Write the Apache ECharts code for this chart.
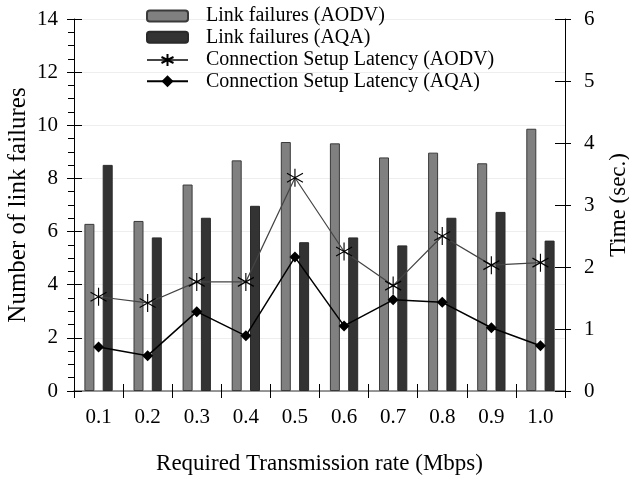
<!DOCTYPE html>
<html>
<head>
<meta charset="utf-8">
<script src="https://cdn.jsdelivr.net/npm/echarts@6/dist/echarts.min.js"></script>
<style>html,body{margin:0;padding:0;background:#fff}#c{width:629px;height:477px}</style>
</head>
<body>
<div id="c"></div>
<script>
var categories = ['0.1','0.2','0.3','0.4','0.5','0.6','0.7','0.8','0.9','1.0'];
var linkFailuresAODV = [6.29, 6.40, 7.77, 8.68, 9.37, 9.32, 8.79, 8.97, 8.57, 9.87];
var linkFailuresAQA = [8.51, 5.78, 6.52, 6.97, 5.60, 5.78, 5.48, 6.52, 6.74, 5.66];
var latencyAODV = [1.52, 1.42, 1.76, 1.76, 3.44, 2.25, 1.70, 2.50, 2.03, 2.07];
var latencyAQA = [0.71, 0.57, 1.28, 0.89, 2.16, 1.05, 1.47, 1.43, 1.02, 0.73];
var leftTicks = [0, 2, 4, 6, 8, 10, 12, 14];
var rightTicks = [0, 1, 2, 3, 4, 5, 6];

var FONT = '"Liberation Serif", "Times New Roman", serif';
var chart = echarts.init(document.getElementById('c'), null, {renderer: 'canvas'});
var starPath = 'path://M10,0L10,20M1.34,5L18.66,15M1.34,15L18.66,5';
var legendText = {fontFamily: FONT, fontSize: 20, color: '#000', lineHeight: 20, padding: [0,0,0,13]};

chart.setOption({
  animation: false,
  backgroundColor: '#fff',
  textStyle: {fontFamily: FONT},
  grid: {left: 74, right: 64, top: 19, bottom: 86, containLabel: false, outerBoundsMode: 'none'},
  legend: [
    {
      orient: 'vertical', left: 141, top: 1, itemGap: 1.3,
      itemWidth: 41, itemHeight: 11,
      textStyle: legendText,
      data: ['Link failures (AODV)', 'Link failures (AQA)']
    },
    {
      orient: 'vertical', left: 141, top: 45, itemGap: 1.3,
      itemWidth: 41, itemHeight: 15,
      textStyle: legendText,
      data: ['Connection Setup Latency (AODV)', 'Connection Setup Latency (AQA)']
    }
  ],
  xAxis: [
    {
      type: 'category', data: categories, position: 'bottom',
      name: 'Required Transmission rate (Mbps)', nameLocation: 'middle', nameGap: 61,
      nameMoveOverlap: false,
      nameTextStyle: {fontFamily: FONT, fontSize: 23, color: '#000'},
      axisLine: {lineStyle: {color: '#777', width: 1.5}},
      axisTick: {show: true, inside: false, length: 7, lineStyle: {color: '#000'}},
      axisLabel: {fontFamily: FONT, fontSize: 21, color: '#000', margin: 16},
      splitLine: {show: false}
    },
    {
      type: 'category', data: categories, position: 'bottom',
      axisLine: {show: false},
      axisTick: {show: true, inside: true, length: 7, lineStyle: {color: '#000'}},
      axisLabel: {show: false}, splitLine: {show: false}
    }
  ],
  yAxis: [
    {
      type: 'value', min: 0, max: 14, interval: 2, position: 'left',
      name: 'Number of link failures', nameLocation: 'middle', nameGap: 43,
      nameMoveOverlap: false,
      nameTextStyle: {fontFamily: FONT, fontSize: 25, color: '#000'},
      axisLine: {show: true, lineStyle: {color: '#000'}},
      axisTick: {show: true, inside: false, length: 7, lineStyle: {color: '#000'}},
      minorTick: {show: true, splitNumber: 4, length: 6, lineStyle: {color: '#000'}},
      axisLabel: {fontFamily: FONT, fontSize: 21, color: '#000', margin: 16},
      splitLine: {show: true, lineStyle: {color: '#eeeeee', width: 1}}
    },
    {
      type: 'value', min: 0, max: 6, interval: 1, position: 'right',
      name: 'Time (sec.)', nameLocation: 'middle', nameGap: 42, nameRotate: 90,
      nameMoveOverlap: false,
      nameTextStyle: {fontFamily: FONT, fontSize: 23, color: '#000'},
      axisLine: {show: true, lineStyle: {color: '#000'}},
      axisTick: {show: true, inside: false, length: 6, lineStyle: {color: '#000'}},
      axisLabel: {fontFamily: FONT, fontSize: 21, color: '#000', margin: 19},
      splitLine: {show: false}
    },
    {
      type: 'value', min: 0, max: 14, interval: 2, position: 'left',
      axisLine: {show: false},
      axisTick: {show: true, inside: true, length: 8, lineStyle: {color: '#000'}},
      axisLabel: {show: false}, splitLine: {show: false}
    },
    {
      type: 'value', min: 0, max: 6, interval: 1, position: 'right',
      axisLine: {show: false},
      axisTick: {show: true, inside: true, length: 10, lineStyle: {color: '#000'}},
      axisLabel: {show: false}, splitLine: {show: false}
    }
  ],
  series: [
    {
      name: 'Link failures (AODV)', type: 'bar', xAxisIndex: 0, yAxisIndex: 0,
      data: linkFailuresAODV, barWidth: 10, barGap: '83%',
      itemStyle: {color: '#808080', borderColor: '#3a3a3a', borderWidth: 1}
    },
    {
      name: 'Link failures (AQA)', type: 'bar', xAxisIndex: 0, yAxisIndex: 0,
      data: linkFailuresAQA, barWidth: 10, barGap: '83%',
      itemStyle: {color: '#333333', borderColor: '#2a2a2a', borderWidth: 1}
    },
    {
      name: 'Connection Setup Latency (AODV)', type: 'line', xAxisIndex: 0, yAxisIndex: 1,
      data: latencyAODV, symbol: starPath, symbolSize: [16, 18],
      lineStyle: {color: '#444', width: 1.2},
      itemStyle: {color: 'rgba(0,0,0,0)', borderColor: '#000', borderWidth: 1.2},
      z: 5
    },
    {
      name: 'Connection Setup Latency (AQA)', type: 'line', xAxisIndex: 0, yAxisIndex: 1,
      data: latencyAQA, symbol: 'diamond', symbolSize: 11,
      lineStyle: {color: '#000', width: 1.5},
      itemStyle: {color: '#000'},
      z: 6
    }
  ]
});
</script>
</body>
</html>
